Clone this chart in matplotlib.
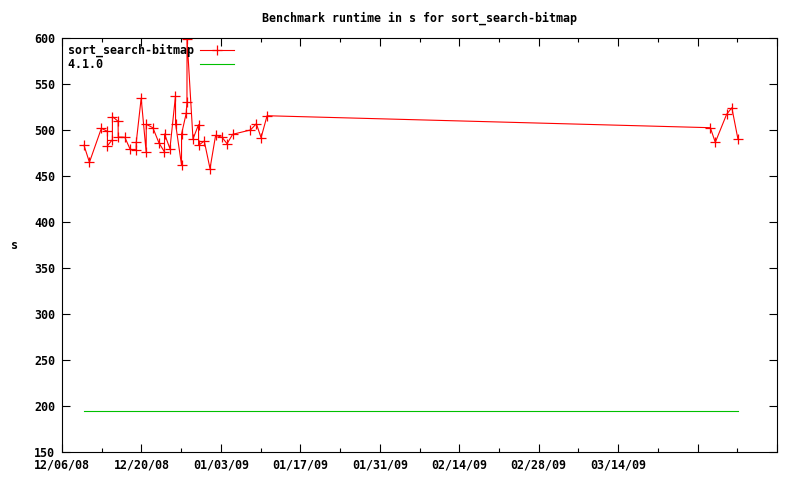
'''gnuplot-style benchmark runtime chart for sort_search-bitmap'''

import pandas as pd
import matplotlib
matplotlib.use('Agg')
import matplotlib.pyplot as plt

# run timestamps and runtimes (s) for sort_search-bitmap
run_times = [
    '2008-12-09 21:00', '2008-12-10 20:00', '2008-12-12 22:30',
    '2008-12-14 00:00', '2008-12-14 00:20', '2008-12-14 21:00', '2008-12-14 21:20',
    '2008-12-15 21:20', '2008-12-15 21:40', '2008-12-17 01:40', '2008-12-18 00:15',
    '2008-12-19 01:40', '2008-12-19 02:00', '2008-12-19 22:50',
    '2008-12-20 20:00', '2008-12-20 20:20', '2008-12-22 00:15', '2008-12-23 01:40',
    '2008-12-24 01:25', '2008-12-24 01:45', '2008-12-25 00:30',
    '2008-12-26 00:00', '2008-12-26 00:20', '2008-12-27 01:25', '2008-12-27 01:45',
    '2008-12-27 21:20', '2008-12-28 00:30', '2008-12-28 00:50', '2008-12-29 02:00',
    '2008-12-30 01:25', '2008-12-30 01:45', '2008-12-31 01:40', '2009-01-01 02:00',
    '2009-01-02 01:40', '2009-01-03 04:50', '2009-01-04 02:00', '2009-01-05 01:40',
    '2009-01-08 04:50', '2009-01-09 06:00', '2009-01-10 02:00', '2009-01-11 03:20',
    '2009-03-30 06:00', '2009-03-31 03:00', '2009-04-02 03:00', '2009-04-03 01:00',
    '2009-04-04 03:00',
]
runtimes = [
    483.4, 464.9, 501.8,
    498.6, 482.9, 489.5, 514.5,
    509.5, 492.4, 492.1, 479.0,
    478.3, 486.6, 534.5,
    475.8, 506.2, 502.5, 486.2,
    476.1, 495.7, 479.7,
    537.0, 506.8, 462.0, 495.7,
    518.2, 530.4, 599.0, 490.2,
    505.8, 483.4, 488.0, 458.0,
    494.2, 492.1, 485.1, 495.3,
    500.0, 506.8, 491.6, 515.5,
    502.5, 486.6, 517.1, 524.2,
    489.9,
]

# reference version 4.1.0 runtime
ref_times = ['2008-12-09 21:00', '2009-04-04 03:00']
ref_runtime = [195.0, 195.0]

x_start = '2008-12-06'
x_end = '2009-04-11'
tick_labels = ['12/06/08', '12/20/08', '01/03/09', '01/17/09',
               '01/31/09', '02/14/09', '02/28/09', '03/14/09', '', '']

font = 'DejaVu Sans Mono'
fs = 8.4

fig = plt.figure(figsize=(8, 4.8), dpi=100)
ax = fig.add_axes([62 / 800, 28 / 480, 715 / 800, 414 / 480])

x = pd.to_datetime(run_times)
ax.plot(x, runtimes, color='#ff0000', lw=0.8, marker='+', ms=7, mew=0.9,
        label='sort_search-bitmap')
ax.plot(pd.to_datetime(ref_times), ref_runtime, color='#00c000', lw=0.8,
        label='4.1.0'.ljust(len('sort_search-bitmap')))

ax.set_xlim(pd.Timestamp(x_start), pd.Timestamp(x_end))
ax.set_ylim(150, 600)
ax.set_yticks(range(150, 601, 50))

major = pd.date_range(x_start, x_end, freq='14D')
ax.set_xticks(major)
ax.set_xticklabels(tick_labels)
ax.set_xticks(pd.date_range(x_start, x_end, freq='7D'), minor=True)

ax.tick_params(which='both', direction='in', top=True, right=True,
               labelsize=fs, pad=5)
ax.tick_params(which='major', length=6, width=0.8)
ax.tick_params(which='minor', length=3, width=0.8)
ax.tick_params(axis='y', which='minor', length=0)
for lab in ax.get_xticklabels() + ax.get_yticklabels():
    lab.set_family(font)
    lab.set_weight('bold')
for sp in ax.spines.values():
    sp.set_linewidth(0.8)

fig.text(420 / 800, 1 - 18 / 480, 'Benchmark runtime in s for sort_search-bitmap',
         ha='center', va='center', family=font, weight='bold', fontsize=fs)
fig.text(14 / 800, 1 - 246 / 480, 's', ha='center', va='center',
         family=font, weight='bold', fontsize=fs)

leg = ax.legend(loc='upper left', frameon=False, markerfirst=False,
                prop={'family': font, 'weight': 'bold', 'size': fs},
                handlelength=2.9, handletextpad=0.5, labelspacing=0.1,
                borderaxespad=0.45, borderpad=0.05)

fig.savefig('out.png', dpi=100)
